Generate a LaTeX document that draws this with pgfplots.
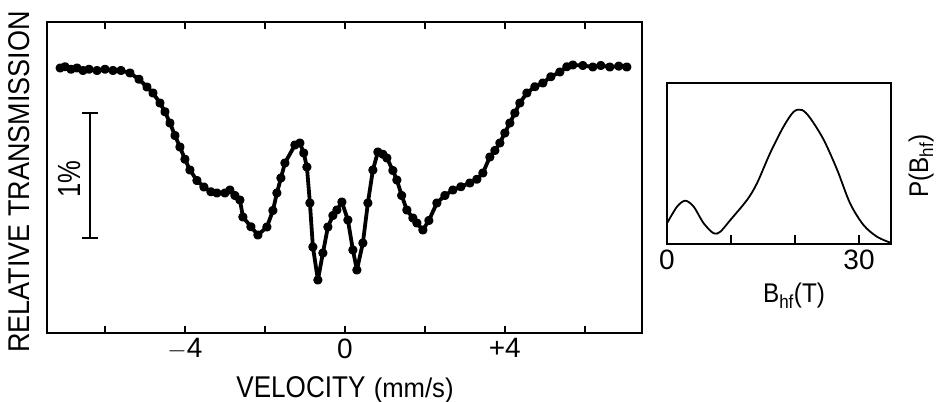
\documentclass[border=0pt]{standalone}
\usepackage{fontspec}
\setmainfont{Liberation Sans}
\usepackage{pgfplots}
\pgfplotsset{compat=1.18}
\pgfplotstableread{
v y
-7.12 2.12
-7.0 2.13
-6.85 2.11
-6.7 2.12
-6.55 2.10
-6.4 2.11
-6.2 2.10
-6.0 2.11
-5.8 2.10
-5.6 2.10
-5.375 2.08
-5.15 2.03
-4.95 1.968
-4.8 1.92
-4.625 1.84
-4.5 1.77
-4.375 1.68
-4.25 1.58
-4.125 1.488
-4.0 1.39
-3.875 1.304
-3.7 1.22
-3.525 1.168
-3.35 1.13
-3.2 1.12
-3.0 1.12
-2.875 1.144
-2.75 1.10
-2.625 1.064
-2.55 0.928
-2.35 0.85
-2.175 0.784
-1.95 0.848
-1.8 0.98
-1.7 1.12
-1.6 1.24
-1.5 1.36
-1.25 1.504
-1.125 1.52
-1.03 1.44
-0.95 1.328
-0.875 1.04
-0.8 0.688
-0.675 0.424
-0.55 0.64
-0.425 0.848
-0.3 0.94
-0.2 0.984
-0.075 1.048
0.075 0.904
0.2 0.664
0.3 0.504
0.45 0.72
0.575 1.04
0.7 1.304
0.825 1.448
0.95 1.43
1.05 1.40
1.2 1.30
1.3 1.224
1.42 1.10
1.55 0.984
1.7 0.92
1.8 0.88
1.95 0.824
2.1 0.90
2.3 1.04
2.5 1.10
2.7 1.144
2.9 1.17
3.125 1.20
3.3 1.23
3.45 1.28
3.625 1.408
3.75 1.46
3.875 1.52
4.0 1.60
4.125 1.68
4.25 1.76
4.375 1.84
4.55 1.92
4.75 1.97
4.95 2.0
5.15 2.05
5.375 2.088
5.55 2.13
5.7 2.144
5.95 2.14
6.2 2.128
6.4 2.14
6.625 2.128
6.85 2.135
7.05 2.128
}\spectrum
\pgfplotstableread{
B p
0 20.7
1.56 37.3
2.86 43.3
4.17 37.3
5.73 20.7
7.29 10.7
8.33 12.3
9.9 24
12.5 44
14.06 60.7
16.1 90.7
18.2 117.3
19.8 132.3
21.1 134
22.4 125.7
24.5 104
26.6 74
28.6 40.7
30.7 19
32.8 7.3
34.9 1.3
}\dist
\begin{document}
\begin{tikzpicture}[x=1pt,y=1pt]
\useasboundingbox (0,0) rectangle (938,402);
\begin{axis}[
  at={(47pt,69pt)}, anchor=south west, scale only axis,
  width=595pt, height=311pt,
  xmin=-7.45, xmax=7.43, ymin=0, ymax=2.488,
  xtick={-6,-4,-2,0,2,4,6},
  xticklabels={,$-$4,,0,,+4,},
  ytick=\empty,
  xtick pos=both, xticklabel pos=lower,
  tick align=inside,
  major tick length=7pt,
  tick style={line width=1.5pt, black},
  axis line style={line width=1.5pt},
  xticklabel style={font=\fontsize{28}{28}\selectfont, yshift=-2pt},
  /pgf/number format/assume math mode=true,
]
\addplot[black, line width=3.8pt, line join=round, mark=*, mark size=2.7pt] table[x=v,y=y] {\spectrum};
\end{axis}
\begin{axis}[
  at={(667pt,158pt)}, anchor=south west, scale only axis,
  width=224pt, height=161pt,
  xmin=0, xmax=35, ymin=0, ymax=161,
  xtick={0,10,20,30},
  xticklabels={0,,,30},
  ytick=\empty,
  xtick pos=lower,
  tick align=inside,
  major tick length=9pt,
  tick style={line width=1.5pt, black},
  axis line style={line width=1.5pt},
  xticklabel style={font=\fontsize{28}{28}\selectfont, yshift=-2pt},
  /pgf/number format/assume math mode=true,
]
\addplot[black, line width=1.8pt, smooth] table[x=B,y=p] {\dist};
\end{axis}
% scale bar
\draw[line width=2.4pt] (90,289) -- (90,164);
\draw[line width=2.4pt] (82,289) -- (98,289);
\draw[line width=2.4pt] (82,164) -- (98,164);
\node[rotate=90, anchor=base, inner sep=0pt] at (80,223) {\fontsize{32}{32}\selectfont\scalebox{0.8}[1]{1\%}};
% labels
\node[rotate=90, anchor=base, inner sep=0pt] at (30,220) {\fontsize{30}{30}\selectfont\scalebox{0.9}[1]{RELATIVE TRANSMISSION}};
\node[anchor=base, inner sep=0pt] at (345,5) {\fontsize{30}{30}\selectfont\scalebox{0.87}[1]{VELOCITY} \fontsize{27}{27}\selectfont\scalebox{0.95}[1]{(mm/s)}};
\node[anchor=base, inner sep=0pt] at (794,99) {\fontsize{27}{27}\selectfont\scalebox{0.9}[1]{B\textsubscript{hf}(T)}};
\node[rotate=90, anchor=base, inner sep=0pt] at (928,236) {\fontsize{27}{27}\selectfont\scalebox{0.9}[1]{P(B\textsubscript{hf})}};
\end{tikzpicture}
\end{document}
